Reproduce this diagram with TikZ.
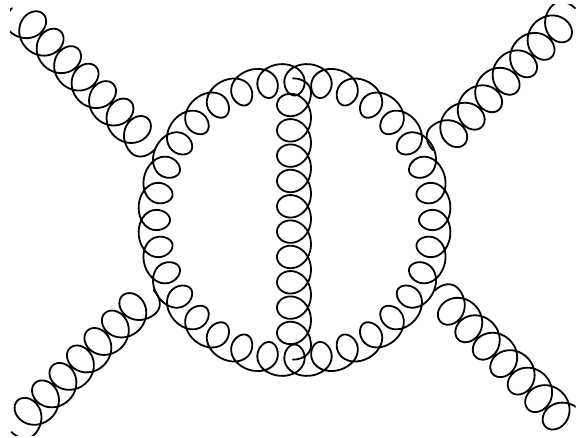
\documentclass[tikz,border=0pt]{standalone}
\tikzset{coil/.style={line width=1.8pt,line cap=round,line join=round,black}}
% trochoid gluon: base point, direction, loop-side normal, loops, pitch
\newcommand{\gp}[2]{({\Bx+\Dx*(#1)+\Mx*(#2)},{\By+\Dy*(#1)+\My*(#2)})}
\newcommand{\gluon}[8]{%
  \def\Bx{#1}\def\By{#2}\def\Dx{#3}\def\Dy{#4}\def\Mx{#5}\def\My{#6}\def\Nn{#7}\def\Pp{#8}%
  \pgfmathsetmacro{\Ll}{\Nn*\Pp}%
  \pgfmathsetmacro{\Tmax}{\Nn*360}%
  \pgfmathtruncatemacro{\Sm}{\Nn*40+1}%
  \draw[coil] \gp{-14}{18} .. controls \gp{-14}{8} and \gp{-8}{0} .. \gp{0}{0};
  \draw[coil] plot[domain=0:\Tmax,samples=\Sm,variable=\t,smooth]
    ({\Bx+\Dx*(\Pp/360*\t+\Bb*sin(\t)+.5*sin(\t)*cos(\t))+\Mx*(\Hh*(1-cos(\t))/2)},
     {\By+\Dy*(\Pp/360*\t+\Bb*sin(\t)+.5*sin(\t)*cos(\t))+\My*(\Hh*(1-cos(\t))/2)});
  \draw[coil] \gp{\Ll}{0} .. controls \gp{\Ll+8}{0} and \gp{\Ll+14}{8} .. \gp{\Ll+14}{18};
}
\begin{document}
\begin{tikzpicture}[x=1pt,y=-1pt]
\useasboundingbox (0,0) rectangle (581,438);
\def\Bb{17.2}\def\Hh{36}
\begin{scope}
\clip (10,5) rectangle (575.5,435);
\gluon{9.14}{30.8}{.7071}{.7071}{.7071}{-.7071}{7}{24.7}
\gluon{430.2}{127.6}{.7071}{-.7071}{.7071}{.7071}{7}{24.7}
\gluon{457.4}{287.74}{.7071}{.7071}{-.7071}{.7071}{7}{24.7}
\gluon{34.1}{434.86}{.7071}{-.7071}{-.7071}{-.7071}{7}{24.7}
\end{scope}
\def\Hh{34}
\gluon{311}{92.33}{0}{1}{-1}{0}{10}{25.33}
% closed ring of coils
\draw[coil] plot[domain=0:11520,samples=1281,variable=\t,smooth]
  ({294.5+(156.5-16*(1-cos(\t)))*sin((\t-180)/32+6.9*sin(\t)+.4*sin(\t)*cos(\t))},
   {220-(156.5-16*(1-cos(\t)))*cos((\t-180)/32+6.9*sin(\t)+.4*sin(\t)*cos(\t))}) -- cycle;
\end{tikzpicture}
\end{document}
